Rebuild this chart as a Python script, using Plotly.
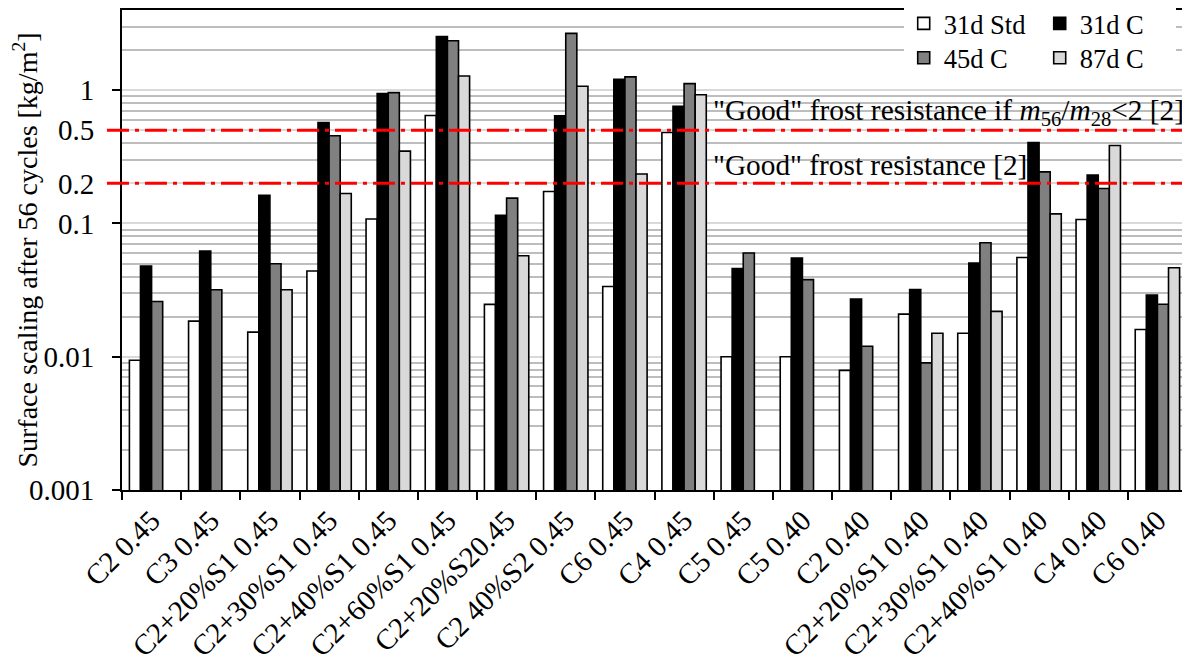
import plotly.graph_objects as go
import numpy as np

categories = ["C2 0.45", "C3 0.45", "C2+20%S1 0.45", "C2+30%S1 0.45", "C2+40%S1 0.45",
              "C2+60%S1 0.45", "C2+20%S20.45", "C2 40%S2 0.45", "C6 0.45", "C4 0.45",
              "C5 0.45", "C5 0.40", "C2 0.40", "C2+20%S1 0.40", "C2+30%S1 0.40",
              "C2+40%S1 0.40", "C4 0.40", "C6 0.40"]

std31 = [0.0094, 0.0185, 0.0153, 0.044, 0.108, 0.647, 0.0247, 0.174, 0.0337, 0.482,
         0.010, 0.010, 0.0079, 0.0209, 0.015, 0.0556, 0.107, 0.016]
c31 = [0.048, 0.062, 0.163, 0.573, 0.946, 2.53, 0.115, 0.643, 1.21, 0.759,
       0.046, 0.055, 0.0271, 0.032, 0.0505, 0.405, 0.231, 0.029]
c45 = [0.026, 0.0318, 0.0499, 0.455, 0.96, 2.35, 0.155, 2.67, 1.26, 1.12,
       0.060, 0.0379, 0.012, 0.009, 0.0716, 0.244, 0.183, 0.0248]
c87 = [None, None, 0.0318, 0.168, 0.349, 1.28, 0.0573, 1.07, 0.235, 0.925,
       None, None, None, 0.015, 0.0219, 0.118, 0.385, 0.0466]

series_names = ["31d Std", "31d C", "45d C", "87d C"]
series_vals = [std31, c31, c45, c87]
series_colors = ["#ffffff", "#000000", "#808080", "#d9d9d9"]
series_legend = ["legend", "legend", "legend2", "legend2"]

ytick_vals = [0.001, 0.01, 0.1, 0.2, 0.5, 1]
ytick_text = ["0.001", "0.01", "0.1", "0.2", "0.5", "1"]
limit_good_ratio = 0.5
limit_good = 0.2

FONT = "Liberation Serif"

fig = go.Figure()
for name, vals, col, lg in zip(series_names, series_vals, series_colors, series_legend):
    fig.add_trace(go.Bar(x=categories, y=vals, name=name, legend=lg,
                         marker=dict(color=col, line=dict(color="black", width=1.6))))

# page body has an 8px margin; figure is sized/offset to compensate
fig.update_layout(
    width=1182, height=656,
    margin=dict(l=114, r=3, t=2, b=174, autoexpand=False),
    paper_bgcolor="white", plot_bgcolor="white",
    font=dict(family=FONT, size=28, color="black"),
    barmode="group", bargap=0.25, bargroupgap=0,
    showlegend=True,
    legend=dict(orientation="h", x=0.734, xanchor="left", y=1.0215, yanchor="top",
                bgcolor="white", entrywidth=91, font=dict(size=26.5),
                itemclick=False),
    legend2=dict(orientation="h", x=0.734, xanchor="left", y=0.950, yanchor="top",
                 bgcolor="white", entrywidth=91, font=dict(size=26.5),
                 itemclick=False),
)

fig.update_xaxes(
    type="category", showline=True, linecolor="black", linewidth=2, mirror=True,
    ticks="outside", tickson="boundaries", ticklen=8, tickwidth=2, tickcolor="black",
    tickangle=-45, tickfont=dict(family=FONT, size=29), showgrid=False, automargin=False,
)

fig.update_yaxes(
    type="log", range=[np.log10(0.001), np.log10(4)],
    tickmode="array", tickvals=ytick_vals, ticktext=ytick_text,
    tickfont=dict(family=FONT, size=29),
    showline=True, linecolor="black", linewidth=2, mirror=True,
    ticks="outside", ticklen=8, tickwidth=2, tickcolor="black",
    ticklabelstandoff=12, automargin=False,
    showgrid=True, gridcolor="#d9d9d9", gridwidth=2,
    minor=dict(dtick="D1", showgrid=True, gridcolor="#bdbdbd", gridwidth=2, ticks=""),
    title=dict(text="Surface scaling after 56 cycles [kg/m<sup>2</sup>]",
               font=dict(family=FONT, size=28), standoff=0),
    zeroline=False,
)

for yv in [limit_good_ratio, limit_good]:
    fig.add_shape(type="line", xref="paper", yref="y", x0=-0.0141, x1=1, y0=yv, y1=yv,
                  line=dict(color="red", width=3, dash="22px,6px,4px,6px"), layer="above")

fig.add_annotation(xref="paper", yref="y", x=0.553, y=np.log10(limit_good_ratio),
                   xanchor="left", yanchor="bottom", showarrow=False, yshift=-2,
                   text='"Good" frost resistance if <i>m</i><sub>56</sub>/<i>m</i><sub>28</sub>&lt;2 [2]',
                   font=dict(family=FONT, size=29.4))
fig.add_annotation(xref="paper", yref="y", x=0.553, y=np.log10(limit_good),
                   xanchor="left", yanchor="bottom", showarrow=False, yshift=0,
                   text='"Good" frost resistance [2]',
                   font=dict(family=FONT, size=29.3))

fig.write_html("out.html")
